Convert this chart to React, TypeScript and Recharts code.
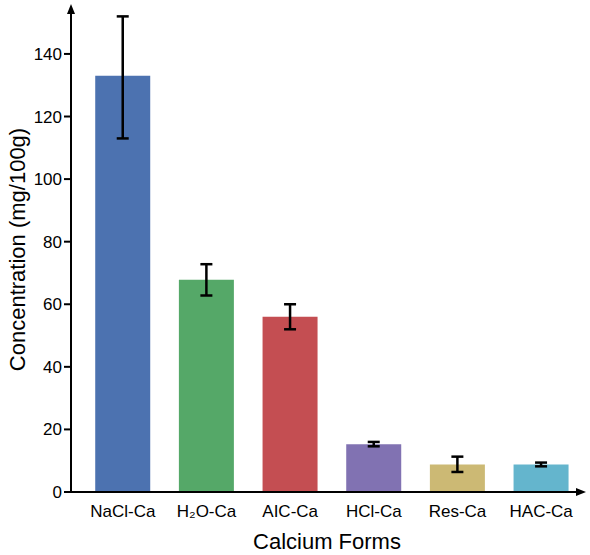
import { BarChart, Bar, XAxis, YAxis, Cell, ErrorBar } from 'recharts';

const categories = ['NaCl-Ca', 'H₂O-Ca', 'AIC-Ca', 'HCl-Ca', 'Res-Ca', 'HAC-Ca'];
const means = [133, 67.8, 56, 15.3, 8.8, 8.8];
const errMinus = [20, 5, 4, 0.7, 2.4, 0.6];
const errPlus = [19, 5, 4, 0.7, 2.5, 0.6];
const yTicks = [0, 20, 40, 60, 80, 100, 120, 140];

const COLORS = ['#4C72B0', '#55A868', '#C44E52', '#8172B2', '#CCB974', '#64B5CD'];
const FONT = '"Liberation Sans", Arial, Helvetica, sans-serif';

const chartData = categories.map((name, i) => ({
  name,
  value: means[i],
  err: [errMinus[i], errPlus[i]],
}));

const YLabel = ({ viewBox }: any) => {
  const cx = viewBox.x + 17;
  const cy = viewBox.y + viewBox.height / 2;
  return (
    <text
      x={cx}
      y={cy}
      transform={`rotate(-90, ${cx}, ${cy})`}
      textAnchor="middle"
      dominantBaseline="central"
      fontSize={22}
      fontFamily={FONT}
      fill="#000"
    >
      Concentration (mg/100g)
    </text>
  );
};

const XLabel = ({ viewBox }: any) => (
  <text
    x={viewBox.x + viewBox.width / 2}
    y={549}
    textAnchor="middle"
    fontSize={22}
    fontFamily={FONT}
    fill="#000"
  >
    Calcium Forms
  </text>
);

export default function App() {
  return (
    <div style={{ position: 'absolute', left: 0, top: 0, width: 590, height: 555, background: '#fff' }}>
      <svg width={0} height={0} style={{ position: 'absolute' }}>
        <defs>
          <marker
            id="axis-arrow"
            viewBox="0 0 10 8"
            markerWidth={10}
            markerHeight={8}
            refX={7}
            refY={4}
            orient="auto-start-reverse"
            markerUnits="userSpaceOnUse"
          >
            <path d="M0,0 L10,4 L0,8 z" fill="#000" />
          </marker>
        </defs>
      </svg>
      <BarChart
        width={590}
        height={555}
        data={chartData}
        margin={{ top: 7, right: 7, bottom: 0, left: 0 }}
        barCategoryGap="17%"
      >
        <XAxis
          dataKey="name"
          height={63}
          padding={{ left: 10, right: 0 }}
          axisLine={{ stroke: '#000', strokeWidth: 2, markerEnd: 'url(#axis-arrow)' }}
          tickLine={false}
          tickSize={0}
          tickMargin={13}
          tick={{ fill: '#000', fontSize: 17, fontFamily: FONT }}
          interval={0}
          label={<XLabel />}
        />
        <YAxis
          width={71}
          domain={[0, 155]}
          ticks={yTicks}
          axisLine={{ stroke: '#000', strokeWidth: 2, markerStart: 'url(#axis-arrow)' }}
          tickLine={{ stroke: '#000', strokeWidth: 2 }}
          tickSize={7}
          tickMargin={2}
          tick={{ fill: '#000', fontSize: 17, fontFamily: FONT }}
          label={<YLabel />}
        />
        <Bar dataKey="value" isAnimationActive={false}>
          {chartData.map((_, index) => (
            <Cell key={`cell-${index}`} fill={COLORS[index % COLORS.length]} />
          ))}
          <ErrorBar dataKey="err" width={6} stroke="#000" strokeWidth={2.5} isAnimationActive={false} />
        </Bar>
      </BarChart>
    </div>
  );
}
